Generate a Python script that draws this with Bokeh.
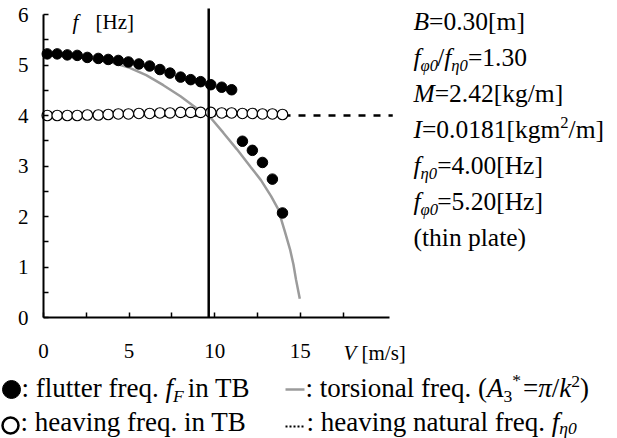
from bokeh.plotting import figure
from bokeh.models import Range1d, FixedTicker, Label, LinearAxis
from bokeh.embed import file_html
from bokeh.resources import INLINE

# ---- data -------------------------------------------------------------
# wind speed V [m/s] of the measured points
V_PTS = [0.22, 0.80, 1.39, 1.97, 2.56, 3.20, 3.78, 4.37, 4.96, 5.57, 6.20, 6.80,
         7.39, 8.01, 8.60, 9.18, 9.77, 10.41, 10.99, 11.62, 12.20, 12.79, 13.37, 13.96]
# flutter frequency f_F in TB [Hz]
F_FLUTTER = [5.22, 5.22, 5.20, 5.19, 5.15, 5.13, 5.11, 5.09, 5.06, 5.02, 4.98, 4.91,
             4.84, 4.76, 4.71, 4.67, 4.61, 4.56, 4.51, 3.49, 3.31, 3.07, 2.74, 2.07]
# heaving frequency in TB [Hz]
F_HEAVE = [4.00, 4.00, 4.00, 4.00, 4.01, 4.01, 4.02, 4.03, 4.03, 4.04, 4.04, 4.05,
           4.05, 4.06, 4.06, 4.06, 4.06, 4.05, 4.05, 4.04, 4.04, 4.03, 4.03, 4.02]
# torsional frequency (A3* = pi/k^2)
V_TORS = [0.0, 1.0, 2.0, 3.0, 4.0, 5.0, 6.0, 7.0, 8.0, 9.0, 9.65, 10.5, 11.3,
          12.1, 12.7, 13.3, 13.7, 14.1, 14.4, 14.6, 14.75, 14.97]
F_TORS = [5.20, 5.19, 5.16, 5.11, 5.05, 4.95, 4.80, 4.60, 4.38, 4.13, 4.00, 3.66, 3.33,
          2.98, 2.72, 2.40, 2.15, 1.70, 1.35, 1.05, 0.75, 0.37]
F_ETA0 = 4.00      # heaving natural frequency [Hz]
V_COAL = 9.65      # wind speed where the torsional freq. meets f_eta0

V_TICKS = [0, 5, 10, 15]
V_MINOR = [2.5, 7.5, 12.5, 17.5]
F_TICKS = [0, 1, 2, 3, 4, 5, 6]
F_MINOR = [0.5, 1.5, 2.5, 3.5, 4.5, 5.5]

# ---- geometry ---------------------------------------------------------
W, H = 617, 438
ORIG_X, ORIG_Y = 43, 317     # canvas pixel of (V=0, f=0)
X_PX = 17.12                 # pixels per m/s
Y_PX = 50.5                  # pixels per Hz
V_AXIS_END = 20.2            # end of the V axis line
V_LINE_END = 20.4            # end of the dashed f_eta0 line
F_LINE_TOP = 6.12            # top of the vertical line

FONT = "Liberation Serif"
GRAY = "#9b9b9b"

# the data area covers the whole canvas; axes are pinned at V=0 / f=0
p = figure(width=W, height=H, output_backend="svg", toolbar_location=None,
           x_axis_type=None, y_axis_type=None,
           x_range=Range1d(-ORIG_X / X_PX, (W - ORIG_X) / X_PX),
           y_range=Range1d(-(H - ORIG_Y) / Y_PX, ORIG_Y / Y_PX),
           min_border=0)
p.outline_line_color = None
p.background_fill_color = "white"
p.border_fill_color = "white"

xaxis = LinearAxis(fixed_location=0, bounds=(0, V_AXIS_END),
                   ticker=FixedTicker(ticks=V_TICKS, minor_ticks=V_MINOR))
yaxis = LinearAxis(fixed_location=0, bounds=(0, 6),
                   ticker=FixedTicker(ticks=F_TICKS, minor_ticks=F_MINOR))
for ax in (xaxis, yaxis):
    ax.axis_line_color = "black"
    ax.axis_line_width = 2
    ax.major_tick_in = 5
    ax.major_tick_out = 0
    ax.minor_tick_in = 5
    ax.minor_tick_out = 0
    ax.major_tick_line_color = "black"
    ax.minor_tick_line_color = "black"
    ax.major_tick_line_width = 1.5
    ax.minor_tick_line_width = 1.5
    ax.major_label_text_font = FONT
    ax.major_label_text_font_size = "21px"
    ax.major_label_text_color = "black"
xaxis.major_label_standoff = 26
yaxis.major_label_standoff = 15
p.add_layout(xaxis, "below")
p.add_layout(yaxis, "left")

# heaving natural frequency (dashed, behind the markers)
p.line([0, V_LINE_END], [F_ETA0, F_ETA0], line_color="black", line_width=2.5,
       line_dash="7 8")
# torsional frequency curve
p.line(V_TORS, F_TORS, line_color=GRAY, line_width=2.5)
# heaving freq. in TB
p.scatter(V_PTS, F_HEAVE, size=10.5, marker="circle", fill_color="white",
          line_color="black", line_width=1.2)
# flutter freq. in TB
p.scatter(V_PTS, F_FLUTTER, size=10.5, marker="circle", fill_color="black",
          line_color="black")
# coalescence speed
p.line([V_COAL, V_COAL], [0, F_LINE_TOP], line_color="black", line_width=2.5)

# ---- rich text helpers -------------------------------------------------
REG = {' ': 250, '(': 333, ')': 333, '*': 500, '.': 250, '/': 278, ':': 278,
       '=': 564, '[': 333, ']': 333, 'A': 722, 'B': 667, 'F': 556, 'H': 722,
       'I': 333, 'M': 889, 'T': 611, 'V': 722, 'a': 444, 'b': 500, 'c': 444,
       'd': 500, 'e': 444, 'f': 333, 'g': 500, 'h': 500, 'i': 278, 'k': 500,
       'l': 278, 'm': 778, 'n': 500, 'o': 500, 'p': 500, 'q': 500, 'r': 333,
       's': 389, 't': 278, 'u': 500, 'v': 500, 'z': 444, 'π': 549, 'φ': 521,
       'η': 500}
ITA = {'A': 611, 'B': 611, 'F': 611, 'I': 333, 'M': 833, 'V': 611, 'f': 278,
       'k': 444, 'π': 500, 'φ': 500, 'η': 500}
BASE_SHIFT = 0.31   # Label draws about this many ems below the requested baseline


def text_width(text, style):
    tab = ITA if "italic" in style else {}
    return sum(tab.get(c, REG.get(c, 500)) for c in text) / 1000.0


def px_v(px):
    return (px - ORIG_X) / X_PX


def py_f(py):
    return (ORIG_Y - py) / Y_PX


def put(text, x, base, size, style="normal", color="black", font=FONT):
    p.add_layout(Label(x=px_v(x), y=py_f(base - BASE_SHIFT * size), text=text,
                       text_font=font, text_font_size=f"{size:.1f}px",
                       text_font_style=style, text_color=color,
                       text_baseline="alphabetic", text_align="left"))


def runs(x0, base, size, items):
    x = x0
    for item in items:
        text, style = item[0], item[1]
        if style is None:          # plain horizontal gap in px
            x += item[2]
            continue
        rel = item[2] if len(item) > 2 else 1.0
        dy = item[3] if len(item) > 3 else 0
        s = size * rel
        put(text, x, base + dy, s, style)
        x += text_width(text, style) * s


SUB = (0.65, 5)
SUP = (0.65, -10)
IT = "italic"
N = "normal"

# axis titles
put("f", 72, 28, 21, IT)
put("[Hz]", 95, 28, 21)
put("V", 343, 359, 21, IT)
put("[m/s]", 361, 359, 21)

# parameters
AX, AS = 413, 25.5
runs(AX, 29, AS, [("B", IT), ("=0.30[m]", N)])
runs(AX, 65, AS, [("f", IT), ("φ0", IT, *SUB), ("/", N), ("f", IT), ("η0", IT, *SUB),
                  ("=1.30", N)])
runs(AX, 101, AS, [("M", IT), ("=2.42[kg/m]", N)])
runs(AX, 137, AS, [("I", IT), ("=0.0181[kgm", N), ("2", N, *SUP), ("/m]", N)])
runs(AX, 173, AS, [("f", IT), ("η0", IT, *SUB), ("=4.00[Hz]", N)])
runs(AX, 209, AS, [("f", IT), ("φ0", IT, *SUB), ("=5.20[Hz]", N)])
runs(AX, 245, AS, [("(thin plate)", N)])

# legend symbols
p.scatter([px_v(11)], [py_f(389)], size=18, marker="circle", fill_color="black",
          line_color="black")
p.scatter([px_v(10)], [py_f(425)], size=16, marker="circle", fill_color="white",
          line_color="black", line_width=2.5)
p.line([px_v(285), px_v(304)], [py_f(389), py_f(389)], line_color=GRAY, line_width=2.5)
p.line([px_v(285), px_v(305)], [py_f(426), py_f(426)], line_color="black",
       line_width=2, line_dash="2 2")

# legend texts
LS = 27
runs(21, 396, LS, [(": flutter freq. ", N), ("f", IT), ("F", IT, *SUB), ("", None, 4),
                   (" in TB", N)])
runs(305, 396, LS, [(": torsional freq. (", N), ("A", IT), ("3", N, *SUB),
                    ("*", N, 0.65, -11), ("", None, 2), ("=", N), ("π", IT), ("/", N),
                    ("k", IT), ("2", N, *SUP), (")", N)])
runs(20, 430, LS, [(": heaving freq. in TB", N)])
runs(306, 430, LS, [(": heaving natural freq. ", N), ("f", IT), ("η0", IT, 0.65, 3)])

open("out.html", "w").write(file_html(p, INLINE))
